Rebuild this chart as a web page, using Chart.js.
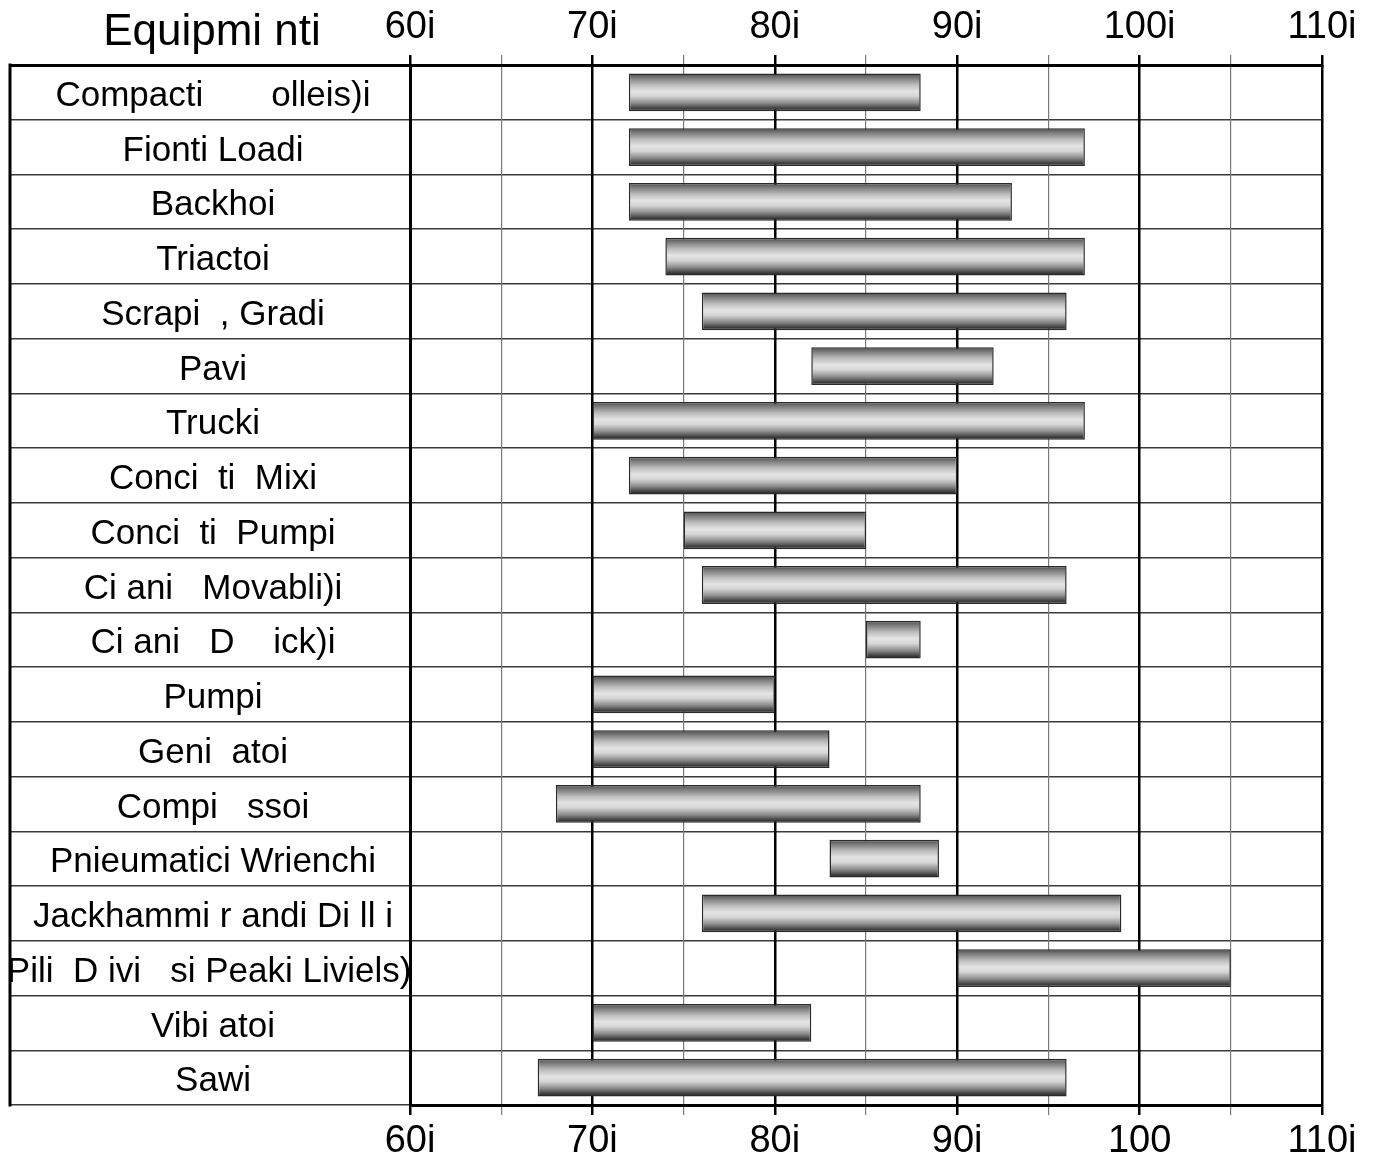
<!DOCTYPE html>
<html>
<head>
<meta charset="utf-8">
<script src="https://cdn.jsdelivr.net/npm/chart.js@4/dist/chart.umd.min.js"></script>
<style>
  html, body { margin: 0; padding: 0; background: #ffffff; }
  #wrap { width: 1381px; height: 1159px; position: relative; }
</style>
</head>
<body>
<div id="wrap"><canvas id="c"></canvas></div>
<script>
const titleText = "Equipmi nti";
const categories = [
  "Compacti       olleis)i",
  "Fionti Loadi",
  "Backhoi",
  "Triactoi",
  "Scrapi  , Gradi",
  "Pavi",
  "Trucki",
  "Conci  ti  Mixi",
  "Conci  ti  Pumpi",
  "Ci ani   Movabli)i",
  "Ci ani   D    ick)i",
  "Pumpi",
  "Geni  atoi",
  "Compi   ssoi",
  "Pnieumatici Wrienchi",
  "Jackhammi r andi Di ll i",
  "Pili  D ivi   si Peaki Liviels)i",
  "Vibi atoi",
  "Sawi"
];
const rangeStart = [72, 72, 72, 74, 76, 82, 70, 72, 75, 76, 85, 70, 70, 68, 83, 76, 90, 70, 67];
const rangeEnd   = [88, 97, 93, 97, 96, 92, 97, 90, 85, 96, 88, 80, 83, 88, 89, 99, 105, 82, 96];
const tickValues = [60, 70, 80, 90, 100, 110];
const topTickLabels = ["60i", "70i", "80i", "90i", "100i", "110i"];
const bottomTickLabels = ["60i", "70i", "80i", "90i", "100", "110i"];

const FONT = "'Liberation Sans', Arial, sans-serif";
const LABEL_SIZE = 35;
const LEFT_COL = 400;

const mc = document.createElement('canvas').getContext('2d');
mc.font = LABEL_SIZE + "px " + FONT;
let widest = 0;
categories.forEach(l => { widest = Math.max(widest, mc.measureText(l).width); });
const labelCenterFromRight = 197;
const yPad = -(LEFT_COL) + labelCenterFromRight - widest / 2;

const data = categories.map((c, i) => [rangeStart[i], rangeEnd[i]]);

function barGradient(ctx) {
  const chart = ctx.chart;
  const ys = chart.scales.y;
  if (!ys || !chart.chartArea || ctx.dataIndex === undefined) return '#bbbbbb';
  const cy = ys.getPixelForValue(ctx.dataIndex);
  const rowH = ys.height / categories.length;
  const h = rowH * 0.69;
  const g = chart.ctx.createLinearGradient(0, cy - h / 2, 0, cy + h / 2);
  g.addColorStop(0.0, '#4a4a4a');
  g.addColorStop(0.12, '#7c7c7c');
  g.addColorStop(0.3, '#bdbdbd');
  g.addColorStop(0.47, '#e4e4e4');
  g.addColorStop(0.6, '#d6d6d6');
  g.addColorStop(0.78, '#8e8e8e');
  g.addColorStop(0.92, '#424242');
  g.addColorStop(1.0, '#1e1e1e');
  return g;
}

function xGridColor(ctx) {
  const v = ctx.tick ? ctx.tick.value : null;
  return (v !== null && v % 10 === 0) ? '#000000' : '#7a7a7a';
}
function xGridWidth(ctx) {
  const v = ctx.tick ? ctx.tick.value : null;
  return (v !== null && v % 10 === 0) ? 2.5 : 1.2;
}

const decorations = {
  id: 'decorations',
  afterDraw(chart) {
    const c = chart.ctx;
    const ys = chart.scales.y;
    c.save();
    c.strokeStyle = '#000';
    c.lineWidth = 3;
    c.beginPath();
    c.moveTo(ys.left, ys.top - 1.5);
    c.lineTo(ys.left, ys.bottom + 1.5);
    c.stroke();
    c.fillStyle = '#000';
    c.font = "44px " + FONT;
    c.textAlign = 'center';
    c.textBaseline = 'alphabetic';
    c.fillText(titleText, ys.left + LEFT_COL / 2 + 2, 45);
    c.restore();
  }
};

new Chart(document.getElementById('c'), {
  type: 'bar',
  data: {
    labels: categories,
    datasets: [{
      data: data,
      xAxisID: 'x',
      backgroundColor: barGradient,
      borderColor: '#2a2a2a',
      borderWidth: 1.5,
      borderSkipped: false,
      barPercentage: 0.69,
      categoryPercentage: 1.0
    }]
  },
  options: {
    indexAxis: 'y',
    responsive: true,
    maintainAspectRatio: false,
    animation: false,
    layout: { padding: { left: 10, right: 59, top: 0, bottom: 0 } },
    plugins: {
      legend: { display: false },
      tooltip: { enabled: false },
      title: { display: false }
    },
    scales: {
      y: {
        type: 'category',
        position: 'left',
        offset: true,
        grid: {
          offset: true,
          drawOnChartArea: true,
          drawTicks: true,
          tickLength: LEFT_COL,
          color: (ctx) => (ctx.index === 0 || ctx.index === categories.length) ? '#000000' : '#3a3a3a',
          lineWidth: (ctx) => (ctx.index === 0 || ctx.index === categories.length) ? 3 : 1.5
        },
        border: { display: true, color: '#000000', width: 3 },
        ticks: {
          autoSkip: false,
          crossAlign: 'center',
          padding: yPad,
          labelOffset: 4,
          color: '#000000',
          font: { family: FONT, size: LABEL_SIZE }
        },
        afterFit(scale) { scale.width = LEFT_COL; }
      },
      x: {
        type: 'linear',
        position: 'bottom',
        min: 60,
        max: 110,
        grid: {
          drawOnChartArea: true,
          drawTicks: true,
          tickLength: 10,
          color: xGridColor,
          lineWidth: xGridWidth
        },
        border: { display: true, color: '#000000', width: 3 },
        ticks: {
          stepSize: 5,
          autoSkip: false,
          maxRotation: 0,
          padding: 4,
          color: '#000000',
          font: { family: FONT, size: 38 },
          callback: (v) => {
            const i = tickValues.indexOf(v);
            return i >= 0 ? bottomTickLabels[i] : '';
          }
        },
        afterFit(scale) { scale.height = 54; }
      },
      x2: {
        type: 'linear',
        position: 'top',
        min: 60,
        max: 110,
        grid: {
          drawOnChartArea: false,
          drawTicks: true,
          tickLength: 10,
          color: xGridColor,
          lineWidth: xGridWidth
        },
        border: { display: true, color: '#000000', width: 3 },
        ticks: {
          stepSize: 5,
          autoSkip: false,
          maxRotation: 0,
          padding: 5,
          color: '#000000',
          font: { family: FONT, size: 38 },
          callback: (v) => {
            const i = tickValues.indexOf(v);
            return i >= 0 ? topTickLabels[i] : '';
          }
        },
        afterFit(scale) { scale.height = 65; }
      }
    }
  },
  plugins: [decorations]
});
</script>
</body>
</html>
